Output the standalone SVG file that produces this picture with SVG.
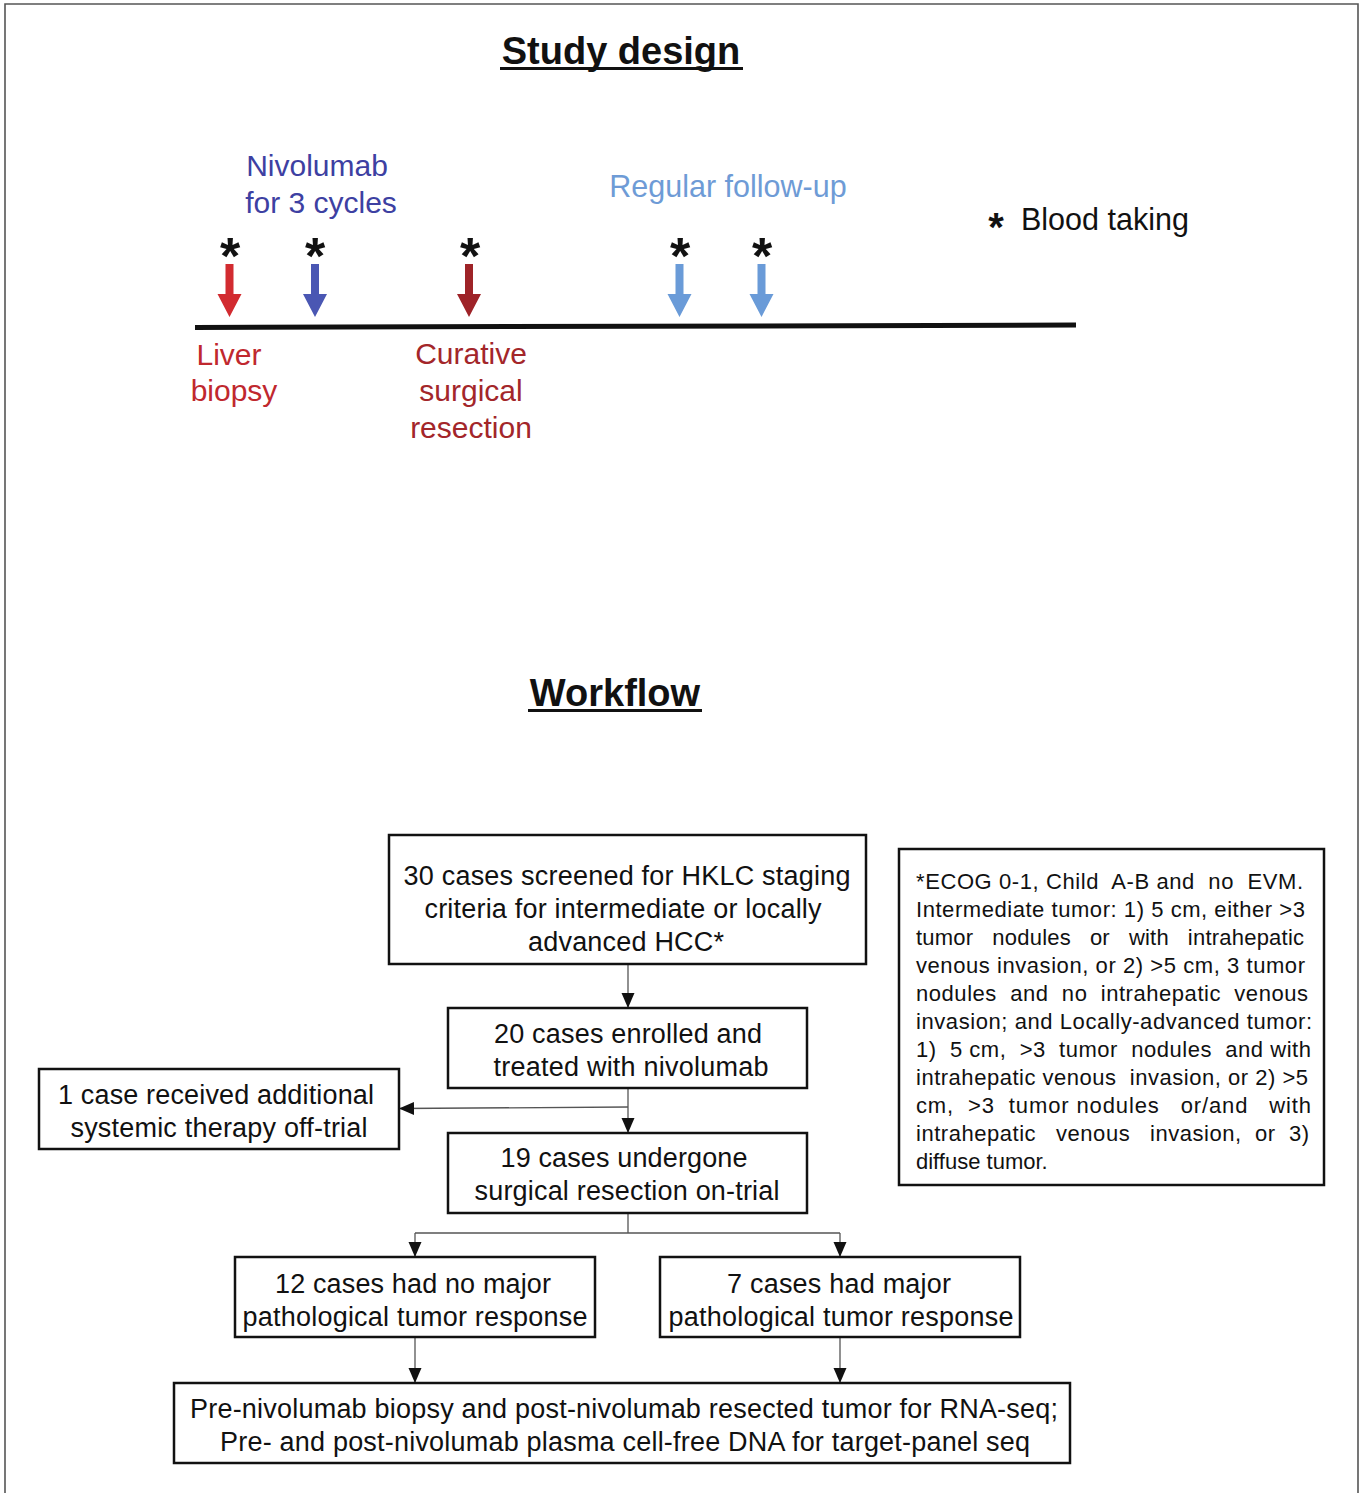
<svg xmlns="http://www.w3.org/2000/svg" width="1363" height="1493" viewBox="0 0 1363 1493">
<defs>
<style>
text{font-family:"Liberation Sans",Arial,sans-serif;}
.title{font-size:38px;font-weight:bold;fill:#111;text-anchor:middle;}
.tl{font-size:30px;text-anchor:middle;}
.ast{font-size:52px;font-weight:bold;fill:#111;text-anchor:middle;}
.box{fill:#fff;stroke:#111;stroke-width:2.5;}
.bt{font-size:27px;fill:#111;text-anchor:middle;}
.nt{font-size:22px;fill:#111;white-space:pre;}
.conn{fill:none;stroke:#555;stroke-width:1.3;}
</style>
<marker id="ah" markerUnits="userSpaceOnUse" markerWidth="16" markerHeight="14" refX="15" refY="6.5" orient="auto" viewBox="0 0 16 14">
<path d="M0,0 L15,6.5 L0,13 z" fill="#111"/>
</marker>
</defs>
<rect width="1363" height="1493" fill="#fff"/>
<path d="M5,1493 V4 H1358 V1493" fill="none" stroke="#555" stroke-width="1.6"/>

<g id="study-title">
<text class="title" x="621" y="64">Study design</text>
<rect x="500" y="67" width="243" height="3" fill="#111"/>
</g>

<g id="timeline">
<path d="M195,327.5 L1076,325" stroke="#111" stroke-width="5"/>
</g>

<g id="arrow-liver">
<text class="ast" x="230" y="274">*</text>
<path d="M225.5,264 h8 v30 h8 l-12,23 l-12,-23 h8 z" fill="#d22b30"/>
</g>
<g id="arrow-nivo">
<text class="ast" x="315" y="274">*</text>
<path d="M311,264 h8 v30 h8 l-12,23 l-12,-23 h8 z" fill="#4a57b3"/>
</g>
<g id="arrow-surgery">
<text class="ast" x="470" y="274">*</text>
<path d="M465,264 h8 v30 h8 l-12,23 l-12,-23 h8 z" fill="#9e2328"/>
</g>
<g id="arrow-fu1">
<text class="ast" x="680" y="274">*</text>
<path d="M675.5,264 h8 v30 h8 l-12,23 l-12,-23 h8 z" fill="#6a9bd8"/>
</g>
<g id="arrow-fu2">
<text class="ast" x="762" y="274">*</text>
<path d="M757.5,264 h8 v30 h8 l-12,23 l-12,-23 h8 z" fill="#6a9bd8"/>
</g>

<g id="label-nivolumab">
<text class="tl" x="317" y="176" fill="#3d40a2">Nivolumab</text>
<text class="tl" x="321" y="213" fill="#3d40a2">for 3 cycles</text>
</g>
<g id="label-followup">
<text class="tl" x="728" y="197" fill="#6e9bd6" style="font-size:30.5px">Regular follow-up</text>
</g>
<g id="legend">
<text x="996" y="241" style="font-size:40px;font-weight:bold;fill:#111;text-anchor:middle">*</text>
<text x="1021" y="230" style="font-size:30.5px;fill:#111">Blood taking</text>
</g>
<g id="label-liver">
<text class="tl" x="229" y="365" fill="#c0282e">Liver</text>
<text class="tl" x="234" y="401" fill="#c0282e">biopsy</text>
</g>
<g id="label-curative">
<text class="tl" x="471" y="364" fill="#a3262a">Curative</text>
<text class="tl" x="471" y="401" fill="#a3262a">surgical</text>
<text class="tl" x="471" y="438" fill="#a3262a">resection</text>
</g>

<g id="workflow-title">
<text class="title" x="615" y="706">Workflow</text>
<rect x="528" y="709" width="174" height="3" fill="#111"/>
</g>

<g id="connectors">
<path class="conn" d="M628,964 V1008" marker-end="url(#ah)"/>
<path class="conn" d="M628,1088 V1133" marker-end="url(#ah)"/>
<path class="conn" d="M628,1107 L399,1108.5" marker-end="url(#ah)"/>
<path class="conn" d="M628,1213 V1233 M415,1233 H840"/>
<path class="conn" d="M415,1233 V1257" marker-end="url(#ah)"/>
<path class="conn" d="M840,1233 V1257" marker-end="url(#ah)"/>
<path class="conn" d="M415,1337 V1383" marker-end="url(#ah)"/>
<path class="conn" d="M840,1337 V1383" marker-end="url(#ah)"/>
</g>

<g id="node-screened">
<rect class="box" x="389" y="835" width="477" height="129"/>
<text class="bt" x="627" y="885" textLength="447">30 cases screened for HKLC staging</text>
<text class="bt" x="623" y="918" textLength="397">criteria for intermediate or locally</text>
<text class="bt" x="626" y="951" textLength="196">advanced HCC*</text>
</g>

<g id="node-enrolled">
<rect class="box" x="448" y="1008" width="359" height="80"/>
<text class="bt" x="628" y="1043" textLength="268">20 cases enrolled and</text>
<text class="bt" x="631" y="1076" textLength="275">treated with nivolumab</text>
</g>

<g id="node-offtrial">
<rect class="box" x="39" y="1069" width="360" height="80"/>
<text class="bt" x="216" y="1104" textLength="316">1 case received additional</text>
<text class="bt" x="219" y="1137" textLength="297">systemic therapy off-trial</text>
</g>

<g id="node-resection">
<rect class="box" x="448" y="1133" width="359" height="80"/>
<text class="bt" x="624" y="1167" textLength="247">19 cases undergone</text>
<text class="bt" x="627" y="1200" textLength="305">surgical resection on-trial</text>
</g>

<g id="node-nonresponse">
<rect class="box" x="235" y="1257" width="360" height="80"/>
<text class="bt" x="413" y="1293" textLength="276">12 cases had no major</text>
<text class="bt" x="415" y="1326" textLength="345">pathological tumor response</text>
</g>

<g id="node-response">
<rect class="box" x="660" y="1257" width="360" height="80"/>
<text class="bt" x="839" y="1293" textLength="224">7 cases had major</text>
<text class="bt" x="841" y="1326" textLength="345">pathological tumor response</text>
</g>

<g id="node-sequencing">
<rect class="box" x="174" y="1383" width="896" height="80"/>
<text class="bt" x="624" y="1418" textLength="868">Pre-nivolumab biopsy and post-nivolumab resected tumor for RNA-seq;</text>
<text class="bt" x="625" y="1451" textLength="810">Pre- and post-nivolumab plasma cell-free DNA for target-panel seq</text>
</g>

<g id="node-criteria" xml:space="preserve">
<rect class="box" x="899" y="849" width="425" height="336"/>
<text class="nt" x="916" y="889" textLength="387" lengthAdjust="spacing">*ECOG 0-1, Child  A-B and  no  EVM.</text>
<text class="nt" x="916" y="917" textLength="389" lengthAdjust="spacing">Intermediate tumor: 1) 5 cm, either &gt;3</text>
<text class="nt" x="916" y="945" textLength="388" lengthAdjust="spacing">tumor   nodules   or   with   intrahepatic</text>
<text class="nt" x="916" y="973" textLength="389" lengthAdjust="spacing">venous invasion, or 2) &gt;5 cm, 3 tumor</text>
<text class="nt" x="916" y="1001" textLength="392" lengthAdjust="spacing">nodules  and  no  intrahepatic  venous</text>
<text class="nt" x="916" y="1029" textLength="396" lengthAdjust="spacing">invasion; and Locally-advanced tumor:</text>
<text class="nt" x="916" y="1057" textLength="395" lengthAdjust="spacing">1)  5 cm,  &gt;3  tumor  nodules  and with</text>
<text class="nt" x="916" y="1085" textLength="392" lengthAdjust="spacing">intrahepatic venous  invasion, or 2) &gt;5</text>
<text class="nt" x="916" y="1113" textLength="395" lengthAdjust="spacing">cm,  &gt;3  tumor nodules   or/and   with</text>
<text class="nt" x="916" y="1141" textLength="393" lengthAdjust="spacing">intrahepatic   venous   invasion,  or  3)</text>
<text class="nt" x="916" y="1169">diffuse tumor.</text>
</g>
</svg>
